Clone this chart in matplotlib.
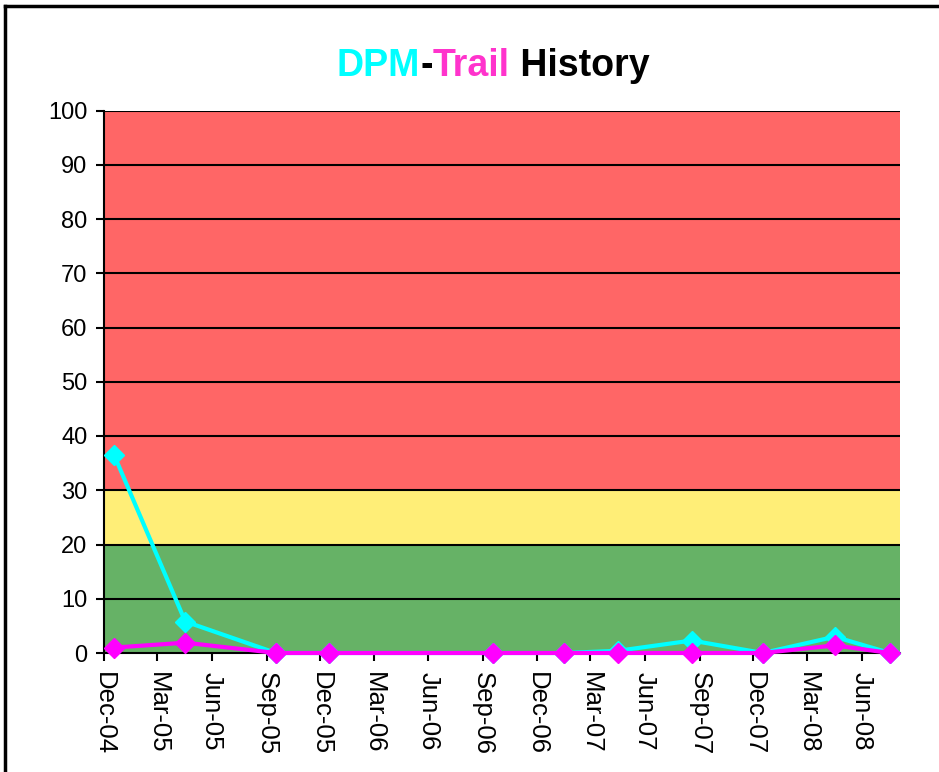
import numpy as np
import pandas as pd
import matplotlib
matplotlib.use("Agg")
import matplotlib.pyplot as plt
import matplotlib.transforms as mtransforms
from matplotlib.lines import Line2D

plt.rcParams['font.family'] = ['Liberation Sans', 'DejaVu Sans']

# data
dates = ["2004-12-18", "2005-04-17", "2005-09-17", "2005-12-16", "2006-09-17",
         "2007-01-16", "2007-04-16", "2007-08-19", "2007-12-17", "2008-04-16",
         "2008-07-18"]
dpm = [36.5, 5.8, 0, 0, 0, 0, 0.4, 2.3, 0, 3.0, 0]
trail = [1.0, 1.9, 0, 0, 0, 0, 0, 0, 0, 1.4, 0]
tick_dates = pd.date_range("2004-12-01", "2008-06-01", freq="3MS")
tick_labels = [d.strftime("%b-%y") for d in tick_dates]
bands = [(0, 20, "#66b266"), (20, 30, "#ffee77"), (30, 100, "#ff6666")]

x = pd.to_datetime(dates)

fig = plt.figure(figsize=(9.39, 7.72), dpi=100)
ax = fig.add_axes([104/939, 1 - 653/772, (900-104)/939, (653-110.5)/772])

for lo, hi, c in bands:
    ax.axhspan(lo, hi, color=c, lw=0, zorder=0)
for yv in range(10, 101, 10):
    ax.axhline(yv, color="black", lw=1.5, zorder=1)

ax.plot(x, dpm, color="#00ffff", lw=3, marker="D", ms=10.5, zorder=3, clip_on=False)
ax.plot(x, trail, color="#ff00ff", lw=3, marker="D", ms=10.5, zorder=4, clip_on=False)

ax.set_ylim(0, 100)
ax.set_yticks(range(0, 101, 10))
ax.set_xlim(pd.Timestamp("2004-12-01"), pd.Timestamp("2008-08-04"))
ax.set_xticks(tick_dates)
ax.set_xticklabels(tick_labels, rotation=-90, ha="center", va="top", fontsize=18.5)
offset = mtransforms.ScaledTranslation(10/100, 0, fig.dpi_scale_trans)
for lab in ax.get_xticklabels():
    lab.set_transform(lab.get_transform() + offset)
ax.tick_params(axis="y", labelsize=17)
ax.tick_params(axis="both", length=6, width=1.5, direction="out", color="black")
ax.tick_params(axis="x", pad=8)
ax.tick_params(axis="y", pad=6)
for s in ["top", "right"]:
    ax.spines[s].set_visible(False)
for s in ["left", "bottom"]:
    ax.spines[s].set_linewidth(1.5)

# title in three colours
parts = [("DPM", "#00ffff"), ("-", "black"), ("Trail", "#ff33cc"), (" History", "black")]
fig.canvas.draw()
r = fig.canvas.get_renderer()
texts = []
xpos = 0
for s, c in parts:
    t = fig.text(0, 0, s, color=c, fontsize=27, fontweight="bold", va="center")
    w = t.get_window_extent(r).width
    texts.append((t, xpos))
    xpos += w
start = 493 - xpos / 2
for t, xo in texts:
    t.set_position(((start + xo) / 939, 1 - 66/772))

# outer frame (top and left edges)
fig.add_artist(Line2D([5/939, 1], [1 - 6/772, 1 - 6/772], color="black", lw=2.5))
fig.add_artist(Line2D([5/939, 5/939], [0, 1 - 6/772], color="black", lw=2.5))

fig.savefig("out.png", dpi=100)
